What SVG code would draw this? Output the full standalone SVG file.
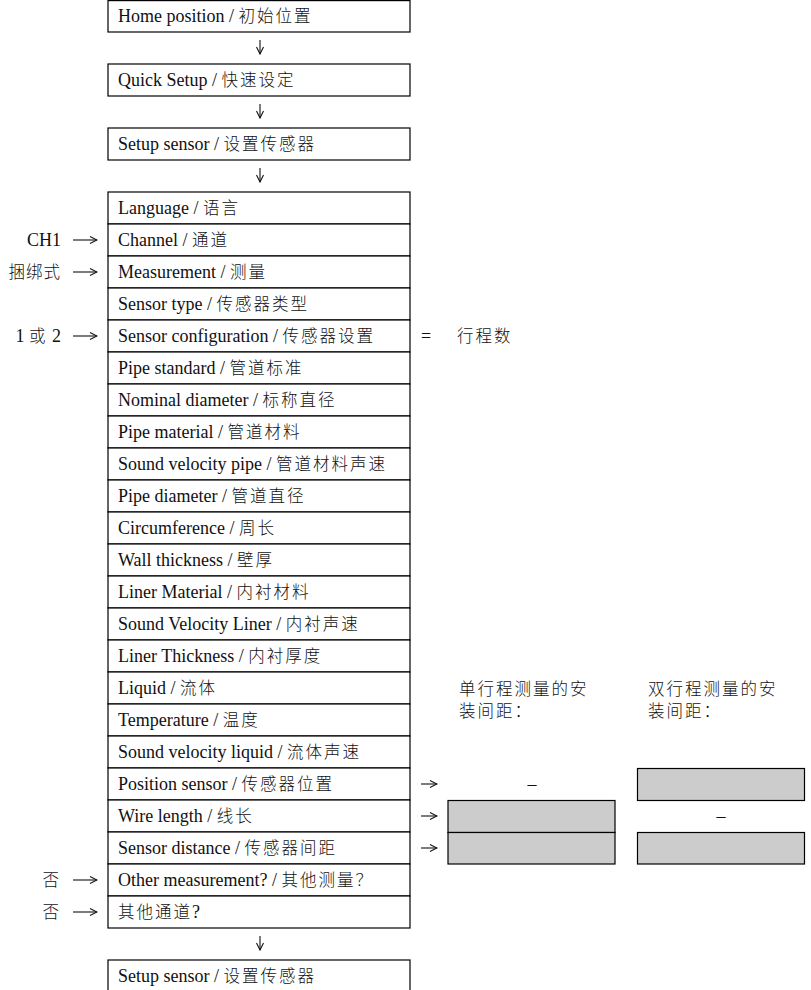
<svg xmlns="http://www.w3.org/2000/svg" width="811" height="990" viewBox="0 0 811 990">
<defs>
<marker id="ah" viewBox="0 0 10 10" refX="9" refY="5" markerWidth="10" markerHeight="10" markerUnits="userSpaceOnUse" orient="auto">
<path d="M2,1.5 L9,5 L2,8.5" fill="none" stroke="#111" stroke-width="1.1"/>
</marker>
</defs>
<style>
.bx{fill:#fff;stroke:#000;stroke-width:1.2}
.gr{fill:#cccccc;stroke:#000;stroke-width:1.2}
text{font-family:"Liberation Serif","Noto Sans CJK SC",serif;font-size:18px;fill:#111}
.c{font-family:"Noto Sans CJK SC",sans-serif;font-size:16.5px;letter-spacing:2px;font-weight:300}
.lbl{text-anchor:end}
.ar{text-anchor:middle}
.hd{font-family:"Noto Sans CJK SC",sans-serif;font-size:16.5px;letter-spacing:2px;font-weight:300}
.cn{fill:none;stroke:#111;stroke-width:1.1;marker-end:url(#ah)}
</style>
<rect width="811" height="990" fill="#fff"/>
<g id="home"><rect class="bx" x="108" y="0.6" width="302" height="31.4"/><text x="118" y="22">Home position / <tspan class="c">初始位置</tspan></text></g>
<g id="quick"><rect class="bx" x="108" y="64" width="302" height="32"/><text x="118" y="86">Quick Setup / <tspan class="c">快速设定</tspan></text></g>
<g id="setup1"><rect class="bx" x="108" y="128" width="302" height="32"/><text x="118" y="150">Setup sensor / <tspan class="c">设置传感器</tspan></text></g>
<g id="r0"><rect class="bx" x="108" y="192" width="302" height="32"/><text x="118" y="214">Language / <tspan class="c">语言</tspan></text></g>
<g id="r1"><rect class="bx" x="108" y="224" width="302" height="32"/><text x="118" y="246">Channel / <tspan class="c">通道</tspan></text></g>
<g id="r2"><rect class="bx" x="108" y="256" width="302" height="32"/><text x="118" y="278">Measurement / <tspan class="c">测量</tspan></text></g>
<g id="r3"><rect class="bx" x="108" y="288" width="302" height="32"/><text x="118" y="310">Sensor type / <tspan class="c">传感器类型</tspan></text></g>
<g id="r4"><rect class="bx" x="108" y="320" width="302" height="32"/><text x="118" y="342">Sensor configuration / <tspan class="c">传感器设置</tspan></text></g>
<g id="r5"><rect class="bx" x="108" y="352" width="302" height="32"/><text x="118" y="374">Pipe standard / <tspan class="c">管道标准</tspan></text></g>
<g id="r6"><rect class="bx" x="108" y="384" width="302" height="32"/><text x="118" y="406">Nominal diameter / <tspan class="c">标称直径</tspan></text></g>
<g id="r7"><rect class="bx" x="108" y="416" width="302" height="32"/><text x="118" y="438">Pipe material / <tspan class="c">管道材料</tspan></text></g>
<g id="r8"><rect class="bx" x="108" y="448" width="302" height="32"/><text x="118" y="470">Sound velocity pipe / <tspan class="c">管道材料声速</tspan></text></g>
<g id="r9"><rect class="bx" x="108" y="480" width="302" height="32"/><text x="118" y="502">Pipe diameter / <tspan class="c">管道直径</tspan></text></g>
<g id="r10"><rect class="bx" x="108" y="512" width="302" height="32"/><text x="118" y="534">Circumference / <tspan class="c">周长</tspan></text></g>
<g id="r11"><rect class="bx" x="108" y="544" width="302" height="32"/><text x="118" y="566">Wall thickness / <tspan class="c">壁厚</tspan></text></g>
<g id="r12"><rect class="bx" x="108" y="576" width="302" height="32"/><text x="118" y="598">Liner Material / <tspan class="c">内衬材料</tspan></text></g>
<g id="r13"><rect class="bx" x="108" y="608" width="302" height="32"/><text x="118" y="630">Sound Velocity Liner / <tspan class="c">内衬声速</tspan></text></g>
<g id="r14"><rect class="bx" x="108" y="640" width="302" height="32"/><text x="118" y="662">Liner Thickness / <tspan class="c">内衬厚度</tspan></text></g>
<g id="r15"><rect class="bx" x="108" y="672" width="302" height="32"/><text x="118" y="694">Liquid / <tspan class="c">流体</tspan></text></g>
<g id="r16"><rect class="bx" x="108" y="704" width="302" height="32"/><text x="118" y="726">Temperature / <tspan class="c">温度</tspan></text></g>
<g id="r17"><rect class="bx" x="108" y="736" width="302" height="32"/><text x="118" y="758">Sound velocity liquid / <tspan class="c">流体声速</tspan></text></g>
<g id="r18"><rect class="bx" x="108" y="768" width="302" height="32"/><text x="118" y="790">Position sensor / <tspan class="c">传感器位置</tspan></text></g>
<g id="r19"><rect class="bx" x="108" y="800" width="302" height="32"/><text x="118" y="822">Wire length / <tspan class="c">线长</tspan></text></g>
<g id="r20"><rect class="bx" x="108" y="832" width="302" height="32"/><text x="118" y="854">Sensor distance / <tspan class="c">传感器间距</tspan></text></g>
<g id="r21"><rect class="bx" x="108" y="864" width="302" height="32"/><text x="118" y="886">Other measurement? / <tspan class="c">其他测量？</tspan></text></g>
<g id="r22"><rect class="bx" x="108" y="896" width="302" height="32"/><text x="118" y="918"><tspan class="c">其他通道</tspan>?</text></g>
<g id="setup2"><rect class="bx" x="108" y="960" width="302" height="40"/><text x="118" y="982">Setup sensor / <tspan class="c">设置传感器</tspan></text></g>

<g id="labels">
<text class="lbl" x="61" y="246">CH1</text>
<text class="lbl c" x="61" y="278" style="letter-spacing:1px">捆绑式</text>
<text class="lbl" x="61" y="342">1 <tspan class="c">或</tspan> 2</text>
<text class="lbl c" x="61" y="886">否</text>
<text class="lbl c" x="61" y="918">否</text>
<text x="421" y="342">=</text>
<text class="c" x="457" y="342">行程数</text>
</g>

<g id="header-single"><text class="hd" x="459" y="695">单行程测量的安</text><text class="hd" x="459" y="717">装间距：</text></g>
<g id="header-double"><text class="hd" x="648" y="695">双行程测量的安</text><text class="hd" x="648" y="717">装间距：</text></g>

<g id="single-col">
<text class="ar" x="532" y="790">–</text>
<rect class="gr" x="448" y="800.5" width="167" height="32"/>
<rect class="gr" x="448" y="832.5" width="167" height="31.5"/>
</g>
<g id="double-col">
<rect class="gr" x="637.5" y="768.5" width="167" height="32"/>
<text class="ar" x="721" y="822">–</text>
<rect class="gr" x="637.5" y="832.5" width="167" height="31.5"/>
</g>

<g id="connectors">
<path class="cn" d="M260,40 V54"/>
<path class="cn" d="M260,104 V118"/>
<path class="cn" d="M260,168 V182"/>
<path class="cn" d="M260,936 V950"/>
<path class="cn" d="M73,240 H97"/>
<path class="cn" d="M73,272 H97"/>
<path class="cn" d="M73,336 H97"/>
<path class="cn" d="M73,880 H97"/>
<path class="cn" d="M73,912 H97"/>
<path class="cn" d="M421,784 H437"/>
<path class="cn" d="M421,816 H437"/>
<path class="cn" d="M421,848 H437"/>
</g>
</svg>
